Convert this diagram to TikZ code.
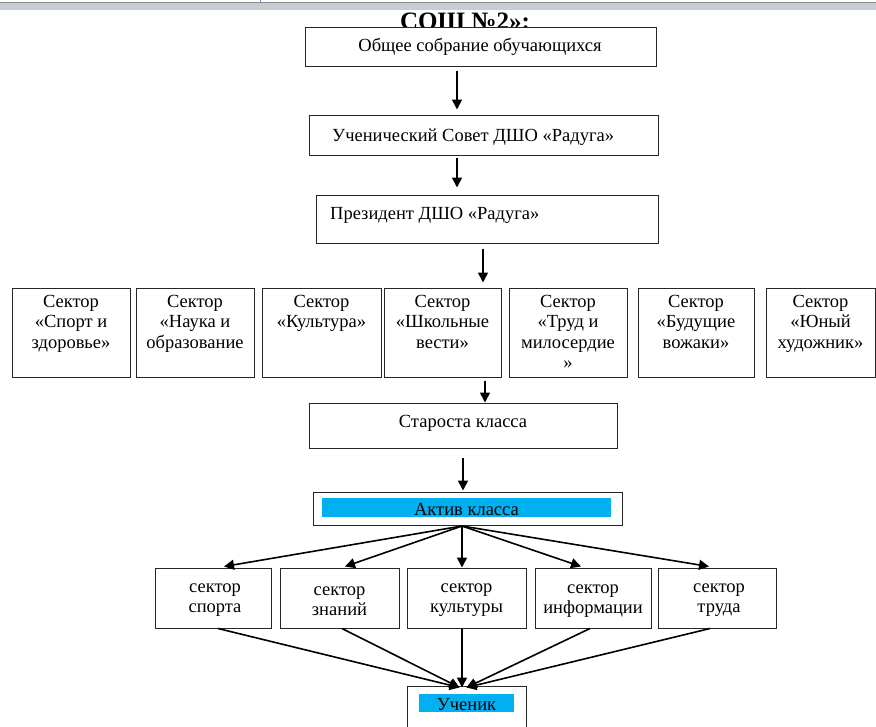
\documentclass[tikz,border=0pt]{standalone}
\usepackage{fontspec}
\setmainfont{Liberation Serif}
\usetikzlibrary{arrows.meta,calc}
\definecolor{wcyan}{HTML}{00B0F0}
\definecolor{barg}{HTML}{C9CDD3}
\definecolor{bard}{HTML}{8A8F96}
\tikzset{
  box/.style={draw=black!85, line width=1pt, fill=white, inner sep=0pt},
  txt/.style={font=\fontsize{18.5}{20.5}\selectfont, align=center, inner sep=0pt},
  arr/.style={line width=1.6pt, -{Triangle[width=10pt,length=10pt]}},
  cyanbox/.style={fill=wcyan, inner sep=0pt}
}
\newcommand{\boxat}[5]{% name, x1, x2, y1, y2
  \node[box, minimum width={#3-#2}, minimum height={#5-#4}] (#1) at ({(#2+#3)/2},{(#4+#5)/2}) {};}
\begin{document}
\begin{tikzpicture}[x=1pt,y=-1pt]
\useasboundingbox (0,0) rectangle (876,726);
\fill[white] (0,0) rectangle (876,726);
% top bar
\fill[barg] (0,2) rectangle (876,10);
\draw[bard, line width=1pt] (0,2.5) -- (876,2.5);
\draw[barg!70!black, line width=0.5pt] (260,0) -- (260,2);
% title
\node[font=\bfseries\fontsize{25}{27}\selectfont, anchor=base, inner sep=0pt] (title) at (465,29) {СОШ №2»:};
% boxes
\boxat{b1}{305}{656}{27}{66}
\node[txt] (t1) at (480,47) {Общее собрание обучающихся};
\boxat{b2}{309}{658}{115}{155}
\node[txt, anchor=west] (t2) at (332,137) {Ученический Совет ДШО «Радуга»};
\boxat{b3}{316}{658}{195}{243}
\node[txt, anchor=west] (t3) at (330,215) {Президент ДШО «Радуга»};
% sector row
\boxat{k1}{12}{130}{288}{377}
\boxat{k2}{136}{254}{288}{377}
\boxat{k3}{262}{381}{288}{377}
\boxat{k4}{384}{501}{288}{377}
\boxat{k5}{509}{627}{288}{377}
\boxat{k6}{638}{754}{288}{377}
\boxat{k7}{766}{875}{288}{377}
\tikzset{ktxt/.style={txt, anchor=north, yshift=-7.5pt}}
\node[ktxt] (kt1) at (k1.north) {Сектор\\«Спорт и\\здоровье»};
\node[ktxt] (kt2) at (k2.north) {Сектор\\«Наука и\\образование};
\node[ktxt] (kt3) at (k3.north) {Сектор\\«Культура»};
\node[ktxt] (kt4) at (k4.north) {Сектор\\«Школьные\\вести»};
\node[ktxt] (kt5) at (k5.north) {Сектор\\«Труд и\\милосердие\\»};
\node[ktxt] (kt6) at (k6.north) {Сектор\\«Будущие\\вожаки»};
\node[ktxt] (kt7) at (k7.north) {Сектор\\«Юный\\художник»};
% starosta
\boxat{st}{309}{617}{403}{448}
\node[txt] (stt) at (463,423) {Староста класса};
% aktiv
\boxat{ak}{313}{622}{492}{525}
\node[cyanbox, minimum width=289, minimum height=19] (akc) at (466.5,507.5) {};
\node[txt] (akt) at (466.5,509) {Актив класса};
% bottom sectors
\boxat{s1}{155}{271}{568}{628}
\boxat{s2}{280}{399}{568}{628}
\boxat{s3}{407}{526}{568}{628}
\boxat{s4}{535}{651}{568}{628}
\boxat{s5}{658}{776}{568}{628}
\node[txt] (st1) at ($(s1.center)+(2,2)$) {сектор\\спорта};
\node[txt] (st2) at ($(s2.center)+(0,3)$) {сектор\\знаний};
\node[txt] (st3) at ($(s3.center)+(0,2)$) {сектор\\культуры};
\node[txt] (st4) at ($(s4.center)+(0,3)$) {сектор\\информации};
\node[txt] (st5) at ($(s5.center)+(2,2)$) {сектор\\труда};
% pupil
\boxat{u}{407}{526}{686}{732}
\node[cyanbox, minimum width=95, minimum height=18] (uc) at (466.5,703) {};
\node[txt] (ut) at (466.5,704.5) {Ученик};
% vertical arrows
\coordinate (x1) at (457,0);
\coordinate (x2) at (483,0);
\coordinate (x3) at (485,0);
\coordinate (x4) at (463,0);
\coordinate (af) at (462,526);
\draw[arr, shorten <=4pt, shorten >=5pt] (b1.south -| x1) -- (b2.north -| x1);
\draw[arr, shorten <=2pt, shorten >=7pt] (b2.south -| x1) -- (b3.north -| x1);
\draw[arr, shorten <=5pt, shorten >=5pt] (b3.south -| x2) -- (k4.north -| x2);
\draw[arr, shorten <=3pt, shorten >=0pt] (k4.south -| x3) -- (st.north -| x3);
\draw[arr, shorten <=9pt, shorten >=1pt] (st.south -| x4) -- (ak.north -| x4);
% fan out
\draw[arr] (af) -- ([xshift=11pt,yshift=1pt]s1.north);
\draw[arr] (af) -- ([xshift=5.5pt,yshift=1pt]s2.north);
\draw[arr] (af) -- (af |- s3.north);
\draw[arr] (af) -- ([xshift=-12pt,yshift=1pt]s4.north);
\draw[arr] (af) -- ([xshift=-8pt,yshift=1pt]s5.north);
% fan in
\draw[arr] ([xshift=5pt]s1.south) -- ([xshift=-7pt,yshift=-2pt]u.north);
\draw[arr] ([xshift=2.5pt]s2.south) -- ([xshift=-7pt,yshift=-2pt]u.north);
\draw[arr] (af |- s3.south) -- ([yshift=-2pt]u.north -| af);
\draw[arr] ([xshift=-3pt]s4.south) -- ([xshift=0pt,yshift=-2pt]u.north);
\draw[arr] ([xshift=-7pt]s5.south) -- ([xshift=0pt,yshift=-2pt]u.north);
\end{tikzpicture}
\end{document}
